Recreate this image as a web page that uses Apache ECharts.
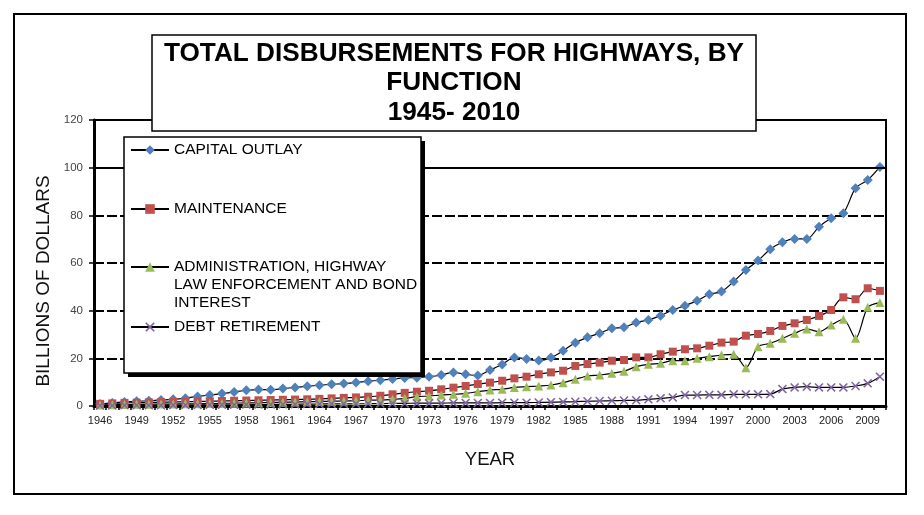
<!DOCTYPE html>
<html>
<head>
<meta charset="utf-8">
<script src="https://cdn.jsdelivr.net/npm/echarts@6/dist/echarts.min.js"></script>
<style>html,body{margin:0;padding:0;background:#fff}#c{width:924px;height:515px}</style>
</head>
<body>
<div id="c"></div>
<script>
const years = [];
for (let y = 1946; y <= 2010; y++) years.push(String(y));

const seriesNames = ['CAPITAL OUTLAY', 'MAINTENANCE', 'ADMINISTRATION, HIGHWAY LAW ENFORCEMENT AND BOND INTEREST', 'DEBT RETIREMENT'];

const capitalOutlay = [0.8,1.3,1.7,2.0,2.2,2.5,2.8,3.3,4.0,4.6,5.2,5.9,6.6,6.9,6.8,7.3,7.8,8.3,8.7,9.1,9.4,9.9,10.4,10.8,11.3,11.8,11.9,12.3,13.0,14.1,13.3,12.8,15.1,17.4,20.4,19.7,19.1,20.3,23.2,26.5,28.8,30.5,32.6,33.0,35.0,36.1,37.9,40.3,42.1,44.2,46.9,48.0,52.2,57.1,61.0,65.8,68.7,70.1,70.1,75.2,78.8,80.9,91.4,94.8,100.3];

const maintenance = [0.9,1.1,1.3,1.4,1.5,1.6,1.7,1.8,1.9,2.0,2.1,2.2,2.3,2.4,2.5,2.6,2.7,2.8,3.0,3.2,3.4,3.6,3.9,4.3,4.9,5.5,6.0,6.4,7.0,7.7,8.4,9.2,9.8,10.6,11.6,12.3,13.3,14.1,14.8,16.8,17.6,18.2,19.0,19.3,20.4,20.4,21.7,22.8,23.8,24.2,25.3,26.6,27.0,29.5,30.2,31.5,33.6,34.7,36.1,37.8,40.3,45.6,44.8,49.4,48.3];

const administration = [0.4,0.5,0.6,0.7,0.7,0.8,0.8,0.9,0.9,1.0,1.1,1.2,1.3,1.4,1.5,1.6,1.7,1.8,1.9,2.0,2.1,2.2,2.4,2.5,2.8,3.2,3.9,4.2,4.6,4.9,5.3,6.0,6.7,7.0,7.8,8.1,8.4,8.8,9.8,11.2,12.6,13.0,13.7,14.6,16.5,17.5,17.9,19.0,19.0,20.0,20.7,21.4,21.7,16.1,24.9,26.3,28.4,30.5,32.3,31.2,34.0,36.4,28.4,41.4,43.4];

const debtRetirement = [0.2,0.2,0.3,0.3,0.3,0.3,0.4,0.4,0.4,0.5,0.5,0.5,0.6,0.6,0.6,0.7,0.7,0.8,0.8,0.9,0.9,0.9,1.0,1.0,1.1,1.1,1.2,1.2,1.2,1.3,1.3,1.3,1.3,1.4,1.4,1.4,1.5,1.6,1.7,1.8,2.0,2.1,2.2,2.3,2.4,2.8,3.2,3.6,4.6,4.6,4.7,4.7,4.9,4.9,4.9,5.0,7.1,7.8,8.1,7.8,7.8,7.8,8.4,9.5,12.3];

const yTicks = [0, 20, 40, 60, 80, 100, 120];

const FONT = '"Liberation Sans", Arial, sans-serif';
const crossPath = 'path://M0,1.2L1.2,0L5,3.8L8.8,0L10,1.2L6.2,5L10,8.8L8.8,10L5,6.2L1.2,10L0,8.8L3.8,5Z';

const chart = echarts.init(document.getElementById('c'), null, {renderer: 'canvas'});

function legendFor(name, top, formatter) {
  return {
    data: [name], left: 130, top: top, orient: 'vertical', padding: 0,
    itemWidth: 38, itemHeight: 12, selectedMode: false, z: 10,
    lineStyle: {width: 2, color: '#000'},
    formatter: formatter || '{name}',
    textStyle: {fontSize: 15.5, color: '#000', fontFamily: FONT, lineHeight: 18}
  };
}

const option = {
  animation: false,
  backgroundColor: '#fff',
  textStyle: {fontFamily: FONT},
  title: {
    text: 'TOTAL DISBURSEMENTS FOR HIGHWAYS, BY\nFUNCTION\n1945- 2010',
    left: 442, top: 35, textAlign: 'center',
    padding: [4, 12, 4, 12],
    backgroundColor: '#fff', borderColor: '#000', borderWidth: 1.5,
    z: 6,
    textStyle: {fontSize: 26.2, fontWeight: 'bold', color: '#000', fontFamily: FONT, lineHeight: 29.5}
  },
  legend: [
    legendFor(seriesNames[0], 141),
    legendFor(seriesNames[1], 200),
    legendFor(seriesNames[2], 222, '\n\nADMINISTRATION, HIGHWAY\nLAW ENFORCEMENT AND BOND\nINTEREST'),
    legendFor(seriesNames[3], 318)
  ],
  graphic: [
    {type: 'rect', z: 0, shape: {x: 14, y: 14, width: 892, height: 480}, style: {fill: 'none', stroke: '#000', lineWidth: 2}},
    {type: 'rect', z: 7, shape: {x: 128, y: 141, width: 297, height: 236}, style: {fill: '#000'}},
    {type: 'rect', z: 8, shape: {x: 124, y: 137, width: 297, height: 236}, style: {fill: '#fff', stroke: '#000', lineWidth: 1.5}}
  ],
  grid: {left: 94, right: 38, top: 120, bottom: 109, show: true, borderColor: '#000', borderWidth: 2, backgroundColor: 'transparent'},
  xAxis: {
    type: 'category', data: years, boundaryGap: true,
    name: 'YEAR', nameLocation: 'middle', nameGap: 44,
    nameTextStyle: {fontSize: 18.5, color: '#111', fontFamily: FONT},
    axisLine: {lineStyle: {color: '#000', width: 3}},
    axisTick: {show: true, interval: 0, length: 4, lineStyle: {color: '#000', width: 1.5}},
    axisLabel: {interval: 2, fontSize: 11, color: '#222', margin: 9, fontFamily: FONT},
    splitLine: {show: false}
  },
  yAxis: {
    type: 'value', min: yTicks[0], max: yTicks[yTicks.length - 1], interval: 20,
    name: 'BILLIONS OF DOLLARS', nameLocation: 'middle', nameGap: 37, nameRotate: 90,
    nameTextStyle: {fontSize: 19, color: '#111', fontFamily: FONT, padding: [0, 36, 0, 0]},
    axisLine: {show: true, lineStyle: {color: '#000', width: 3}},
    axisTick: {show: true, length: 5, lineStyle: {color: '#000', width: 1.5}},
    axisLabel: {fontSize: 11.5, color: '#444', margin: 11, fontFamily: FONT},
    splitLine: {show: true, lineStyle: {color: '#000', width: 2, type: [10, 3]}}
  },
  series: [
    {name: seriesNames[0], type: 'line', data: capitalOutlay, smooth: 0.3,
     symbol: 'diamond', symbolSize: 10, showAllSymbol: true,
     lineStyle: {color: '#000', width: 1.2}, itemStyle: {color: '#4F81BD'},
     markLine: {silent: true, symbol: 'none', label: {show: false}, data: [{yAxis: 100}],
                lineStyle: {color: '#000', type: 'solid', width: 2}}},
    {name: seriesNames[1], type: 'line', data: maintenance, smooth: 0.3,
     symbol: 'rect', symbolSize: 8, showAllSymbol: true,
     lineStyle: {color: '#000', width: 1.2}, itemStyle: {color: '#C0504D'}},
    {name: seriesNames[2], type: 'line', data: administration, smooth: 0.3,
     symbol: 'triangle', symbolSize: 9, showAllSymbol: true,
     lineStyle: {color: '#000', width: 1.2}, itemStyle: {color: '#9BBB59'}},
    {name: seriesNames[3], type: 'line', data: debtRetirement, smooth: 0.3,
     symbol: crossPath, symbolSize: 9, showAllSymbol: true,
     lineStyle: {color: '#000', width: 1.2}, itemStyle: {color: '#8064A2'}}
  ]
};
chart.setOption(option);
</script>
</body>
</html>
